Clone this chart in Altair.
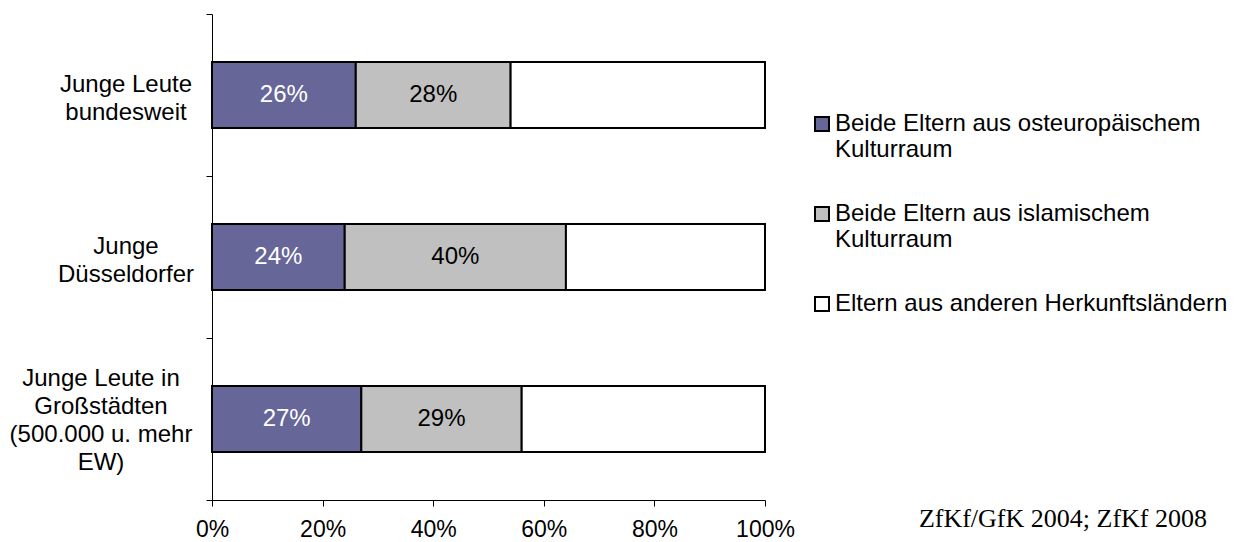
import altair as alt
import pandas as pd

# Survey groups; "|" marks a line break in the category label
gruppen = [
    "Junge Leute|bundesweit",
    "Junge|Düsseldorfer",
    "Junge Leute in|Großstädten|(500.000 u. mehr|EW)",
]
herkunft = [
    "Beide Eltern aus osteuropäischem|Kulturraum",
    "Beide Eltern aus islamischem|Kulturraum",
    "Eltern aus anderen Herkunftsländern",
]
osteuropa = [26, 24, 27]
islamisch = [28, 40, 29]
andere = [46, 36, 44]

farben = ["#666699", "#C0C0C0", "#FFFFFF"]
x_ticks = [0, 20, 40, 60, 80, 100]
quelle = "ZfKf/GfK 2004; ZfKf 2008"

rows = []
for i, g in enumerate(gruppen):
    for rang, (h, werte) in enumerate(zip(herkunft, [osteuropa, islamisch, andere]), start=1):
        rows.append({"gruppe": g, "herkunft": h, "rang": rang, "anteil": werte[i]})
df = pd.DataFrame(rows)
df_gruppen = pd.DataFrame({"gruppe": gruppen, "nr": range(len(gruppen))})

FONT = "Liberation Sans"
FS = 24
FS_TICK = 23
LH = 28

y_enc = alt.Y(
    "gruppe:N",
    sort=gruppen,
    title=None,
    scale=alt.Scale(paddingInner=0, paddingOuter=0),
    axis=alt.Axis(
        labels=False,
        tickBand="extent",
        tickSize=6,
        tickColor="#000000",
        domainColor="#000000",
        grid=False,
    ),
)

x_enc = alt.X(
    "anteil:Q",
    stack="zero",
    title=None,
    scale=alt.Scale(domain=[0, 100], nice=False),
    axis=alt.Axis(
        values=x_ticks,
        labelExpr="datum.value + '%'",
        labelFont=FONT,
        labelFontSize=FS_TICK,
        labelColor="#000000",
        labelFlush=False,
        labelPadding=12,
        tickSize=6,
        tickColor="#000000",
        domainColor="#000000",
        grid=False,
    ),
)

bars = alt.Chart(df).mark_bar(size=66, stroke="#000000", strokeWidth=2).encode(
    x=x_enc,
    y=y_enc,
    color=alt.Color(
        "herkunft:N",
        scale=alt.Scale(domain=herkunft, range=farben),
        legend=alt.Legend(
            title=None,
            orient="none",
            legendX=598,
            legendY=98,
            symbolType="square",
            symbolSize=196,
            symbolStrokeColor="#000000",
            symbolStrokeWidth=2,
            labelExpr="split(datum.label, '|')",
            labelFont=FONT,
            labelFontSize=FS,
            labelColor="#000000",
            labelLimit=600,
            labelOffset=1,
            rowPadding=40,
        ),
    ),
    order=alt.Order("rang:Q"),
)

# percentage labels centred in the first two segments of each bar
labels = (
    alt.Chart(df)
    .transform_window(kum="sum(anteil)", sort=[alt.SortField("rang")], groupby=["gruppe"])
    .transform_calculate(mitte="datum.kum - datum.anteil / 2", text="datum.anteil + '%'")
    .transform_filter("datum.rang < 3")
    .mark_text(font=FONT, fontSize=FS, baseline="middle", align="center")
    .encode(
        x=alt.X("mitte:Q"),
        y=alt.Y("gruppe:N", sort=gruppen),
        text="text:N",
        color=alt.condition("datum.rang == 1", alt.value("#FFFFFF"), alt.value("#000000")),
    )
)


def kategorie_text(filter_expr, x_px, dy):
    # multi-line category label, lines centred, block placed left of the axis
    return (
        alt.Chart(df_gruppen)
        .transform_filter(filter_expr)
        .transform_calculate(zeilen="split(datum.gruppe, '|')")
        .mark_text(
            font=FONT, fontSize=FS, lineHeight=LH, align="center", baseline="middle",
            color="#000000", dy=dy,
        )
        .encode(
            x=alt.value(x_px),
            y=alt.Y("gruppe:N", sort=gruppen),
            text="zeilen:N",
        )
    )


kat_kurz = kategorie_text("datum.nr < 2", -86, -10)
kat_lang = kategorie_text("datum.nr == 2", -111, -40)

source = (
    alt.Chart(pd.DataFrame({"t": [quelle]}))
    .mark_text(font="Liberation Serif", fontSize=26, align="right", baseline="middle", color="#000000")
    .encode(text="t:N", x=alt.value(995), y=alt.value(505))
)

chart = (
    alt.layer(bars, labels, kat_kurz, kat_lang, source)
    .properties(
        width=553,
        height=486,
        padding={"left": 212, "top": 14, "right": 476, "bottom": 42},
        autosize=alt.AutoSizeParams(type="none"),
        background="#FFFFFF",
    )
    .configure_view(strokeWidth=0)
)

chart.save("out.html", embed_options={"renderer": "svg", "actions": False})
